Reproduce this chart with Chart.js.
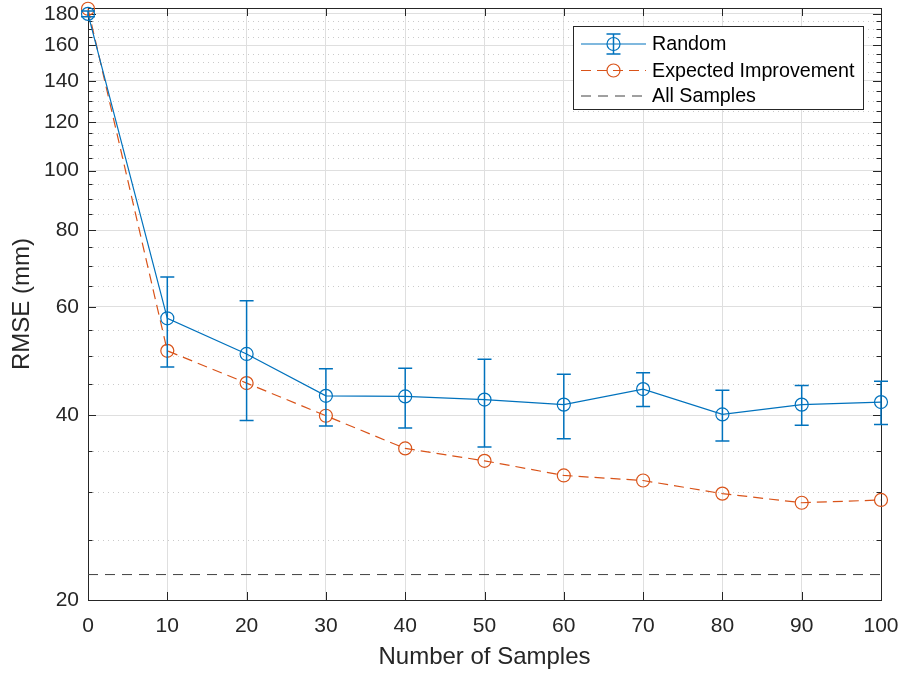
<!DOCTYPE html>
<html>
<head>
<meta charset="utf-8">
<script src="https://cdn.jsdelivr.net/npm/chart.js@4.4.1/dist/chart.umd.min.js"></script>
<style>
    html, body { margin: 0; padding: 0; background: #fff; }
    #wrap { width: 901px; height: 673px; }
</style>
</head>
<body>
<div id="wrap"><canvas id="rmseChart" width="901" height="673"></canvas></div>
<script>
// number of samples
const samples = [0, 10, 20, 30, 40, 50, 60, 70, 80, 90, 100];
// random sampling: mean RMSE (mm) and error bar half-width
const randomRmse = [180, 57.5, 50.3, 43.0, 42.9, 42.4, 41.6, 44.1, 40.1, 41.6, 42.0];
const randomErr = [2, 9.6, 11.1, 4.6, 4.8, 6.9, 5.0, 2.8, 3.8, 3.1, 3.4];
// expected improvement
const eiRmse = [183.5, 50.9, 45.1, 39.9, 35.3, 33.7, 31.9, 31.3, 29.8, 28.8, 29.1];
// RMSE when all samples are used
const allSamplesRmse = 22.0;

const xTicks = [0, 10, 20, 30, 40, 50, 60, 70, 80, 90, 100];
const yTicks = [20, 40, 60, 80, 100, 120, 140, 160, 180];
const yMin = 20, yMax = 184;

const blue = '#0072BD';
const orange = '#D95319';
const gray = '#404040';
const axisColor = '#262626';
const fontFamily = '"Liberation Sans", Arial, Helvetica, sans-serif';

// MATLAB style box, inward ticks, minor dotted grid, error bars and legend
const matlabAxes = {
    id: 'matlabAxes',
    beforeDatasetsDraw(chart) {
        const ctx = chart.ctx;
        const {left, right, top, bottom} = chart.chartArea;
        const ys = chart.scales.y;
        const xs = chart.scales.x;
        ctx.save();

        // minor grid (dotted)
        ctx.strokeStyle = '#cacaca';
        ctx.lineWidth = 1;
        ctx.setLineDash([1, 4]);
        for (let v = yMin + 5; v < yMax; v += 5) {
            if (yTicks.includes(v)) continue;
            const py = Math.round(ys.getPixelForValue(v)) + 0.5;
            ctx.beginPath();
            ctx.moveTo(left, py);
            ctx.lineTo(right, py);
            ctx.stroke();
        }
        ctx.setLineDash([]);

        // box
        ctx.strokeStyle = axisColor;
        ctx.lineWidth = 1;
        ctx.strokeRect(Math.round(left) + 0.5, Math.round(top) + 0.5,
            Math.round(right - left), Math.round(bottom - top));

        // y ticks (left and right, pointing inward)
        for (let v = yMin; v < yMax; v += 5) {
            const py = Math.round(ys.getPixelForValue(v)) + 0.5;
            const len = yTicks.includes(v) ? 8 : 4.5;
            ctx.beginPath();
            ctx.moveTo(left, py);
            ctx.lineTo(left + len, py);
            ctx.moveTo(right, py);
            ctx.lineTo(right - len, py);
            ctx.stroke();
        }
        // x ticks (top and bottom)
        xTicks.forEach(v => {
            const px = Math.round(xs.getPixelForValue(v)) + 0.5;
            ctx.beginPath();
            ctx.moveTo(px, bottom);
            ctx.lineTo(px, bottom - 8);
            ctx.moveTo(px, top);
            ctx.lineTo(px, top + 8);
            ctx.stroke();
        });
        ctx.restore();
    },
    afterDatasetsDraw(chart) {
        const ctx = chart.ctx;
        const ys = chart.scales.y;
        const xs = chart.scales.x;
        ctx.save();
        ctx.strokeStyle = blue;
        ctx.lineWidth = 1.5;
        samples.forEach((s, i) => {
            const px = xs.getPixelForValue(s);
            const yt = ys.getPixelForValue(randomRmse[i] + randomErr[i]);
            const yb = ys.getPixelForValue(randomRmse[i] - randomErr[i]);
            ctx.beginPath();
            ctx.moveTo(px, yt);
            ctx.lineTo(px, yb);
            ctx.moveTo(px - 7, yt);
            ctx.lineTo(px + 7, yt);
            ctx.moveTo(px - 7, yb);
            ctx.lineTo(px + 7, yb);
            ctx.stroke();
        });
        ctx.restore();
    },
    afterDraw(chart) {
        const ctx = chart.ctx;
        const {right, top} = chart.chartArea;
        const bx = right - 308, by = top + 18, bw = 290, bh = 83;
        ctx.save();
        ctx.fillStyle = '#ffffff';
        ctx.fillRect(bx, by, bw, bh);
        ctx.strokeStyle = axisColor;
        ctx.lineWidth = 1;
        ctx.strokeRect(bx + 0.5, by + 0.5, bw, bh);

        const x0 = bx + 8, x1 = bx + 73, xm = (x0 + x1) / 2;
        const rows = [by + 18, by + 44.5, by + 70];

        // Random
        ctx.strokeStyle = blue;
        ctx.lineWidth = 1.2;
        ctx.beginPath();
        ctx.moveTo(x0, rows[0]); ctx.lineTo(x1, rows[0]);
        ctx.stroke();
        ctx.lineWidth = 1.5;
        ctx.beginPath();
        ctx.moveTo(xm, rows[0] - 10); ctx.lineTo(xm, rows[0] + 10);
        ctx.moveTo(xm - 7, rows[0] - 10); ctx.lineTo(xm + 7, rows[0] - 10);
        ctx.moveTo(xm - 7, rows[0] + 10); ctx.lineTo(xm + 7, rows[0] + 10);
        ctx.stroke();
        ctx.lineWidth = 1.2;
        ctx.beginPath();
        ctx.arc(xm, rows[0], 6.5, 0, Math.PI * 2);
        ctx.stroke();

        // Expected Improvement
        ctx.strokeStyle = orange;
        ctx.setLineDash([10, 6]);
        ctx.beginPath();
        ctx.moveTo(x0, rows[1]); ctx.lineTo(x1, rows[1]);
        ctx.stroke();
        ctx.setLineDash([]);
        ctx.beginPath();
        ctx.arc(xm, rows[1], 6.5, 0, Math.PI * 2);
        ctx.stroke();

        // All Samples
        ctx.strokeStyle = gray;
        ctx.lineWidth = 1;
        ctx.setLineDash([10, 7]);
        ctx.beginPath();
        ctx.moveTo(x0, rows[2]); ctx.lineTo(x1, rows[2]);
        ctx.stroke();
        ctx.setLineDash([]);

        ctx.fillStyle = '#000000';
        ctx.font = '19.7px ' + fontFamily;
        ctx.textBaseline = 'middle';
        ctx.textAlign = 'left';
        const names = chart.data.datasets.map(d => d.label);
        names.forEach((n, i) => ctx.fillText(n, x1 + 6, rows[i] + 1));
        ctx.restore();
    }
};

const ctx = document.getElementById('rmseChart').getContext('2d');
const chart = new Chart(ctx, {
    type: 'line',
    data: {
        datasets: [{
            label: 'Random',
            data: samples.map((s, i) => ({x: s, y: randomRmse[i]})),
            borderColor: blue,
            borderWidth: 1.2,
            pointStyle: 'circle',
            pointRadius: 6.5,
            pointBorderWidth: 1.2,
            pointBorderColor: blue,
            pointBackgroundColor: 'rgba(0,0,0,0)',
            clip: false
        }, {
            label: 'Expected Improvement',
            data: samples.map((s, i) => ({x: s, y: eiRmse[i]})),
            borderColor: orange,
            borderWidth: 1.2,
            borderDash: [10, 6],
            pointStyle: 'circle',
            pointRadius: 6.5,
            pointBorderWidth: 1.2,
            pointBorderColor: orange,
            pointBackgroundColor: 'rgba(0,0,0,0)',
            clip: false
        }, {
            label: 'All Samples',
            data: [{x: samples[0], y: allSamplesRmse}, {x: samples[samples.length - 1], y: allSamplesRmse}],
            borderColor: gray,
            borderWidth: 1,
            borderDash: [10, 7],
            pointRadius: 0
        }]
    },
    options: {
        responsive: false,
        animation: false,
        layout: { padding: { top: 8, right: 20, left: 0, bottom: 0 } },
        plugins: {
            legend: { display: false },
            tooltip: { enabled: false }
        },
        scales: {
            x: {
                type: 'linear',
                min: 0,
                max: 100,
                afterBuildTicks: scale => { scale.ticks = xTicks.map(v => ({value: v})); },
                afterFit: scale => {
                    scale.height = 73;
                    scale.paddingLeft = 0;
                    scale.paddingRight = 0;
                },
                ticks: {
                    color: axisColor,
                    font: { family: fontFamily, size: 21 },
                    padding: 14,
                    maxRotation: 0,
                    callback: v => String(v)
                },
                grid: { color: '#dfdfdf', drawTicks: false },
                border: { display: false },
                title: {
                    display: true,
                    text: 'Number of Samples',
                    color: axisColor,
                    font: { family: fontFamily, size: 24 },
                    padding: { top: 0, bottom: 1 }
                }
            },
            y: {
                type: 'logarithmic',
                min: yMin,
                max: yMax,
                afterBuildTicks: scale => { scale.ticks = yTicks.map(v => ({value: v})); },
                afterFit: scale => {
                    scale.width = 88;
                    scale.paddingTop = 0;
                    scale.paddingBottom = 0;
                },
                ticks: {
                    color: axisColor,
                    font: { family: fontFamily, size: 21 },
                    padding: 9,
                    callback: v => String(v)
                },
                grid: { color: '#dfdfdf', drawTicks: false },
                border: { display: false },
                title: {
                    display: true,
                    text: 'RMSE (mm)',
                    color: axisColor,
                    font: { family: fontFamily, size: 24 },
                    padding: { top: 8, bottom: 0 }
                }
            }
        }
    },
    plugins: [matlabAxes]
});
</script>
</body>
</html>
